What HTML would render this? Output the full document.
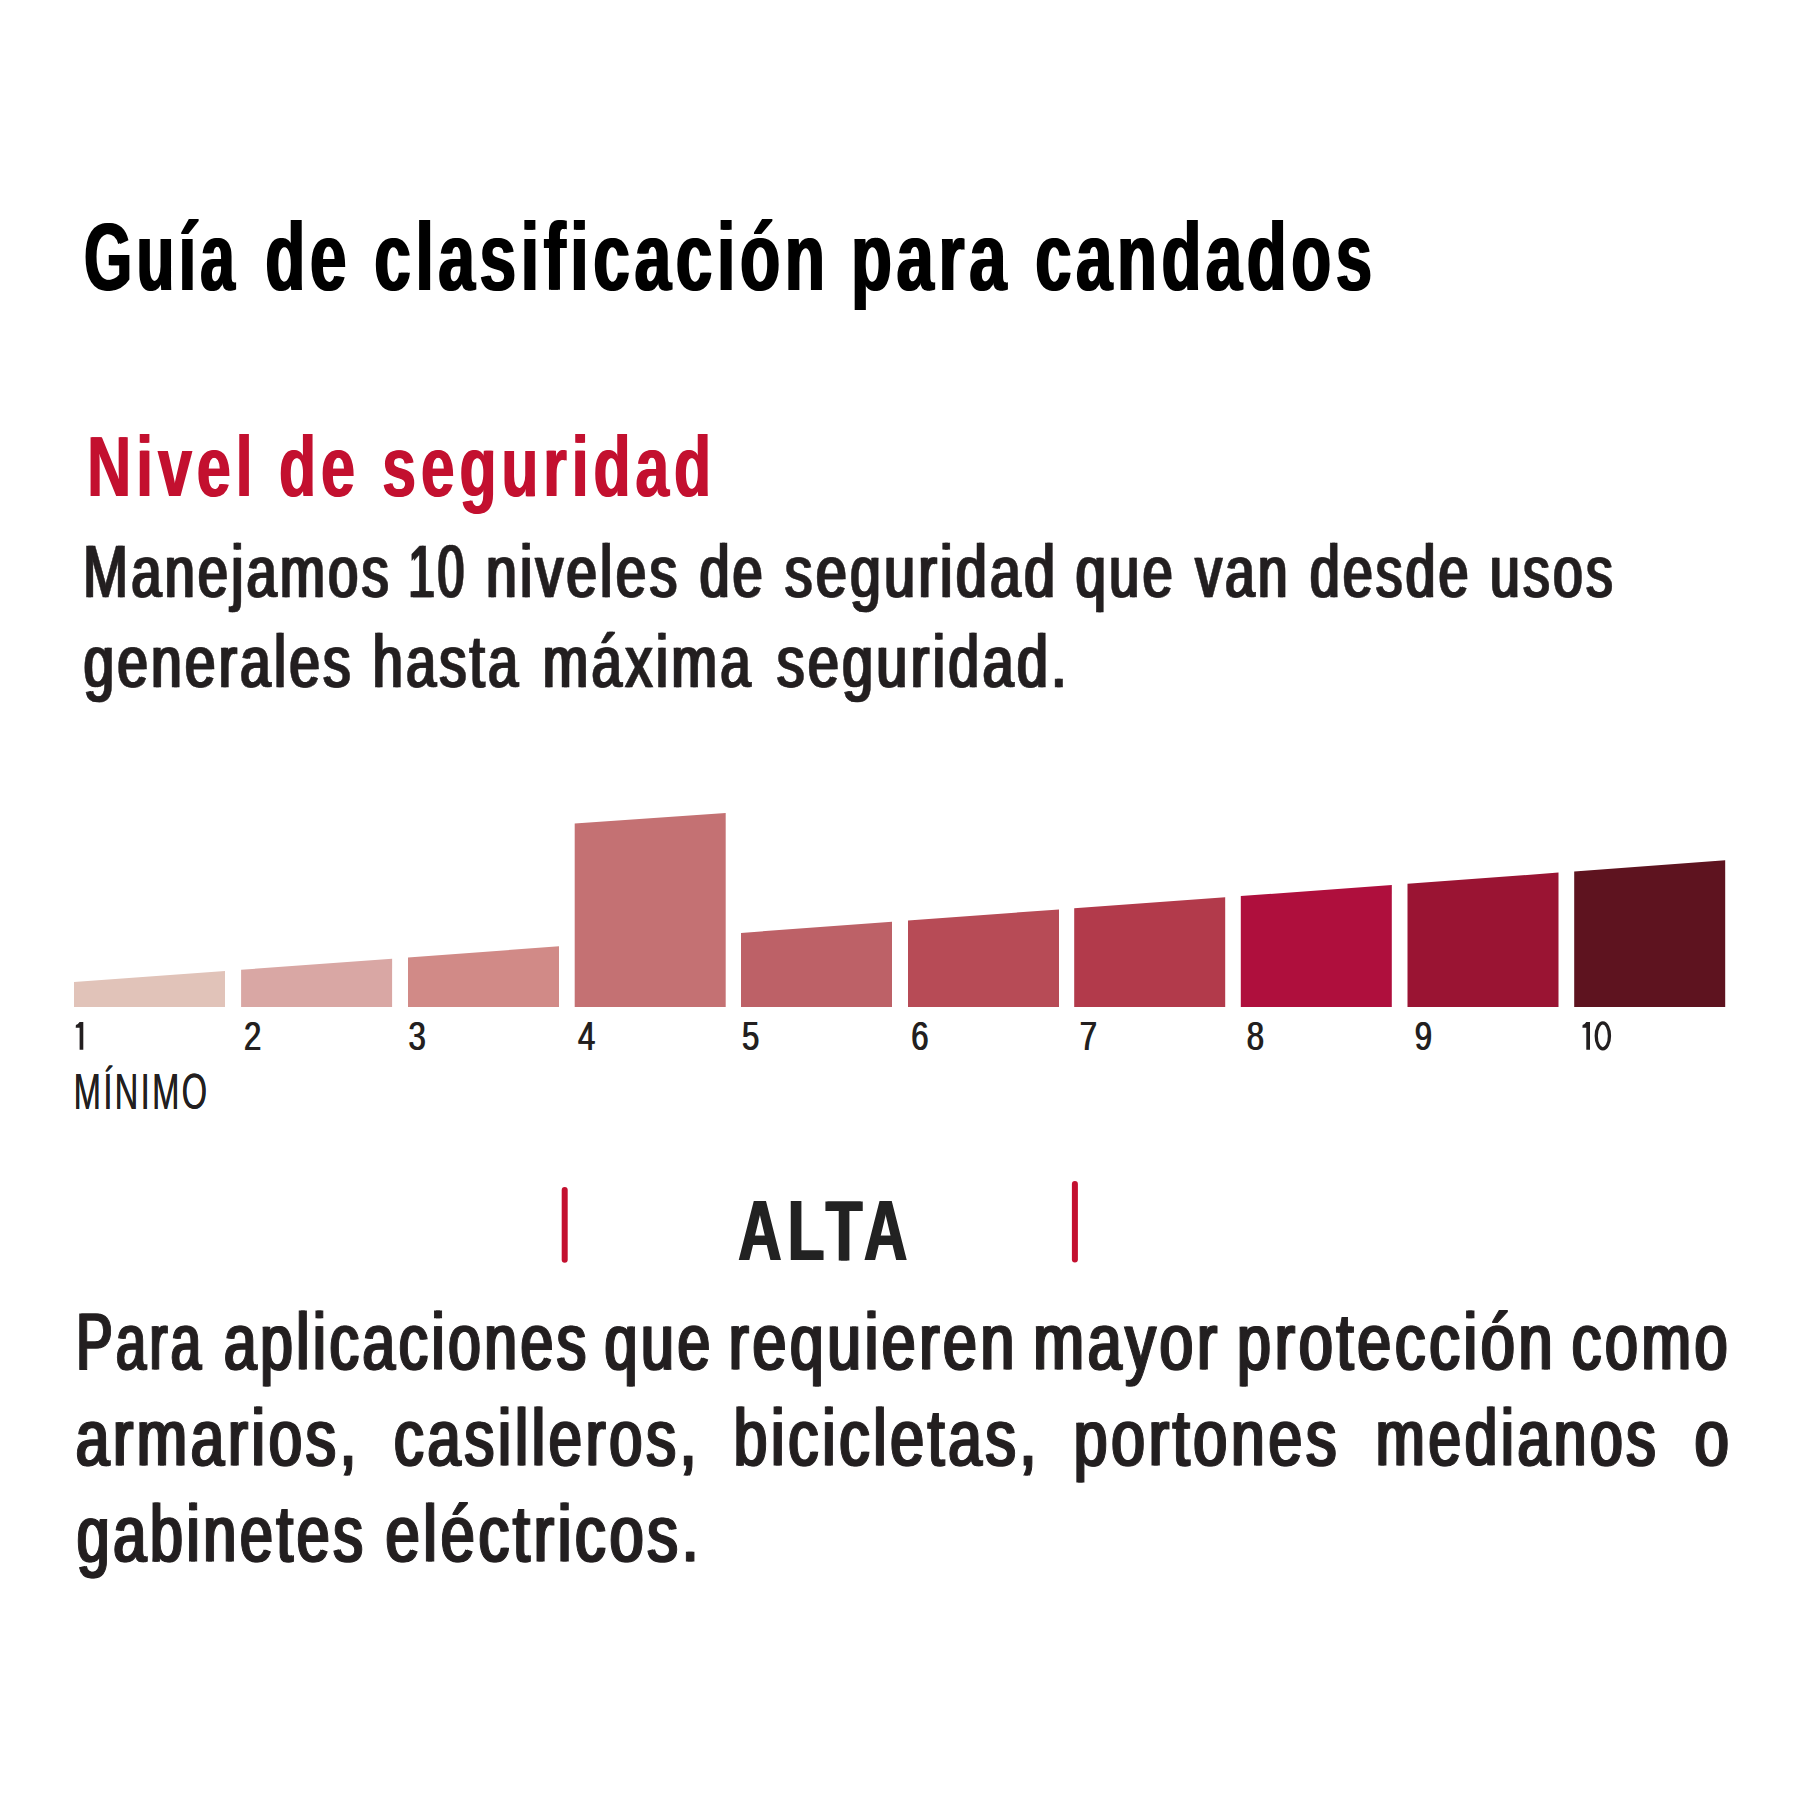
<!DOCTYPE html>
<html><head><meta charset="utf-8"><style>
html,body{margin:0;padding:0;background:#fff;width:1800px;height:1800px;overflow:hidden}
svg{display:block;font-family:"Liberation Sans",sans-serif}
</style></head><body>
<svg width="1800" height="1800" viewBox="0 0 1800 1800">
<rect width="1800" height="1800" fill="#fff"/>
<polygon points="74.00,1007 74.00,982.08 225.00,970.95 225.00,1007" fill="#e1c3b9"/>
<polygon points="241.10,1007 241.10,969.76 392.10,958.63 392.10,1007" fill="#d9a7a4"/>
<polygon points="408.00,1007 408.00,957.45 559.00,946.32 559.00,1007" fill="#d18a87"/>
<polygon points="574.70,1007 574.70,823.60 725.70,813.10 725.70,1007" fill="#c47173"/>
<polygon points="741.00,1007 741.00,932.90 892.00,921.77 892.00,1007" fill="#bd6167"/>
<polygon points="908.00,1007 908.00,920.59 1059.00,909.45 1059.00,1007" fill="#b74b56"/>
<polygon points="1074.20,1007 1074.20,908.33 1225.20,897.20 1225.20,1007" fill="#b23a4b"/>
<polygon points="1240.80,1007 1240.80,896.05 1391.80,884.91 1391.80,1007" fill="#af0f3d"/>
<polygon points="1407.50,1007 1407.50,883.75 1558.50,872.62 1558.50,1007" fill="#9a1433"/>
<polygon points="1574.20,1007 1574.20,871.46 1725.20,860.33 1725.20,1007" fill="#5e131f"/>
<line x1="564.7" y1="1190" x2="564.7" y2="1259.8" stroke="#c3102f" stroke-width="6" stroke-linecap="round"/>
<line x1="1074.9" y1="1184" x2="1074.9" y2="1259.5" stroke="#c3102f" stroke-width="6" stroke-linecap="round"/>
<text transform="translate(83.06 290.0) scale(0.6459 1)" font-size="95.93" font-weight="700" letter-spacing="6.72" fill="#000">Guía</text>
<text transform="translate(85.06 290.0) scale(0.6459 1)" font-size="95.93" font-weight="700" letter-spacing="6.72" fill="#000">Guía</text>
<text transform="translate(264.35 290.0) scale(0.6833 1)" font-size="95.93" font-weight="700" letter-spacing="6.72" fill="#000">de</text>
<text transform="translate(266.35 290.0) scale(0.6833 1)" font-size="95.93" font-weight="700" letter-spacing="6.72" fill="#000">de</text>
<text transform="translate(373.14 290.0) scale(0.6868 1)" font-size="95.93" font-weight="700" letter-spacing="6.72" fill="#000">clasificación</text>
<text transform="translate(375.14 290.0) scale(0.6868 1)" font-size="95.93" font-weight="700" letter-spacing="6.72" fill="#000">clasificación</text>
<text transform="translate(849.91 290.0) scale(0.6983 1)" font-size="95.93" font-weight="700" letter-spacing="6.72" fill="#000">para</text>
<text transform="translate(851.91 290.0) scale(0.6983 1)" font-size="95.93" font-weight="700" letter-spacing="6.72" fill="#000">para</text>
<text transform="translate(1034.16 290.0) scale(0.6808 1)" font-size="95.93" font-weight="700" letter-spacing="6.72" fill="#000">candados</text>
<text transform="translate(1036.16 290.0) scale(0.6808 1)" font-size="95.93" font-weight="700" letter-spacing="6.72" fill="#000">candados</text>
<text transform="translate(86.43 496.0) scale(0.7181 1)" font-size="85.03" font-weight="700" letter-spacing="6.80" fill="#c3102f">Nivel</text>
<text transform="translate(87.83 496.0) scale(0.7181 1)" font-size="85.03" font-weight="700" letter-spacing="6.80" fill="#c3102f">Nivel</text>
<text transform="translate(278.19 496.0) scale(0.7180 1)" font-size="85.03" font-weight="700" letter-spacing="6.80" fill="#c3102f">de</text>
<text transform="translate(279.59 496.0) scale(0.7180 1)" font-size="85.03" font-weight="700" letter-spacing="6.80" fill="#c3102f">de</text>
<text transform="translate(381.60 496.0) scale(0.7135 1)" font-size="85.03" font-weight="700" letter-spacing="6.80" fill="#c3102f">seguridad</text>
<text transform="translate(383.00 496.0) scale(0.7135 1)" font-size="85.03" font-weight="700" letter-spacing="6.80" fill="#c3102f">seguridad</text>
<text transform="translate(81.89 596.7) scale(0.7215 1)" font-size="75.00" font-weight="400" letter-spacing="4.50" fill="#231f20" stroke="#231f20" stroke-width="0.6">Manejamos</text>
<text transform="translate(84.09 596.7) scale(0.7215 1)" font-size="75.00" font-weight="400" letter-spacing="4.50" fill="#231f20" stroke="#231f20" stroke-width="0.6">Manejamos</text>
<text transform="translate(407.21 596.7) scale(0.6356 1)" font-size="75.00" font-weight="400" letter-spacing="4.50" fill="#231f20" stroke="#231f20" stroke-width="0.6">10</text>
<text transform="translate(409.41 596.7) scale(0.6356 1)" font-size="75.00" font-weight="400" letter-spacing="4.50" fill="#231f20" stroke="#231f20" stroke-width="0.6">10</text>
<text transform="translate(485.08 596.7) scale(0.7330 1)" font-size="75.00" font-weight="400" letter-spacing="4.50" fill="#231f20" stroke="#231f20" stroke-width="0.6">niveles</text>
<text transform="translate(487.28 596.7) scale(0.7330 1)" font-size="75.00" font-weight="400" letter-spacing="4.50" fill="#231f20" stroke="#231f20" stroke-width="0.6">niveles</text>
<text transform="translate(698.54 596.7) scale(0.7157 1)" font-size="75.00" font-weight="400" letter-spacing="4.50" fill="#231f20" stroke="#231f20" stroke-width="0.6">de</text>
<text transform="translate(700.74 596.7) scale(0.7157 1)" font-size="75.00" font-weight="400" letter-spacing="4.50" fill="#231f20" stroke="#231f20" stroke-width="0.6">de</text>
<text transform="translate(783.65 596.7) scale(0.7398 1)" font-size="75.00" font-weight="400" letter-spacing="4.50" fill="#231f20" stroke="#231f20" stroke-width="0.6">seguridad</text>
<text transform="translate(785.85 596.7) scale(0.7398 1)" font-size="75.00" font-weight="400" letter-spacing="4.50" fill="#231f20" stroke="#231f20" stroke-width="0.6">seguridad</text>
<text transform="translate(1074.52 596.7) scale(0.7236 1)" font-size="75.00" font-weight="400" letter-spacing="4.50" fill="#231f20" stroke="#231f20" stroke-width="0.6">que</text>
<text transform="translate(1076.72 596.7) scale(0.7236 1)" font-size="75.00" font-weight="400" letter-spacing="4.50" fill="#231f20" stroke="#231f20" stroke-width="0.6">que</text>
<text transform="translate(1194.31 596.7) scale(0.7086 1)" font-size="75.00" font-weight="400" letter-spacing="4.50" fill="#231f20" stroke="#231f20" stroke-width="0.6">van</text>
<text transform="translate(1196.51 596.7) scale(0.7086 1)" font-size="75.00" font-weight="400" letter-spacing="4.50" fill="#231f20" stroke="#231f20" stroke-width="0.6">van</text>
<text transform="translate(1308.74 596.7) scale(0.7133 1)" font-size="75.00" font-weight="400" letter-spacing="4.50" fill="#231f20" stroke="#231f20" stroke-width="0.6">desde</text>
<text transform="translate(1310.94 596.7) scale(0.7133 1)" font-size="75.00" font-weight="400" letter-spacing="4.50" fill="#231f20" stroke="#231f20" stroke-width="0.6">desde</text>
<text transform="translate(1488.86 596.7) scale(0.7148 1)" font-size="75.00" font-weight="400" letter-spacing="4.50" fill="#231f20" stroke="#231f20" stroke-width="0.6">usos</text>
<text transform="translate(1491.06 596.7) scale(0.7148 1)" font-size="75.00" font-weight="400" letter-spacing="4.50" fill="#231f20" stroke="#231f20" stroke-width="0.6">usos</text>
<text transform="translate(82.51 686.7) scale(0.7309 1)" font-size="75.00" font-weight="400" letter-spacing="4.50" fill="#231f20" stroke="#231f20" stroke-width="0.6">generales</text>
<text transform="translate(84.71 686.7) scale(0.7309 1)" font-size="75.00" font-weight="400" letter-spacing="4.50" fill="#231f20" stroke="#231f20" stroke-width="0.6">generales</text>
<text transform="translate(371.53 686.7) scale(0.7222 1)" font-size="75.00" font-weight="400" letter-spacing="4.50" fill="#231f20" stroke="#231f20" stroke-width="0.6">hasta</text>
<text transform="translate(373.73 686.7) scale(0.7222 1)" font-size="75.00" font-weight="400" letter-spacing="4.50" fill="#231f20" stroke="#231f20" stroke-width="0.6">hasta</text>
<text transform="translate(541.50 686.7) scale(0.7302 1)" font-size="75.00" font-weight="400" letter-spacing="4.50" fill="#231f20" stroke="#231f20" stroke-width="0.6">máxima</text>
<text transform="translate(543.70 686.7) scale(0.7302 1)" font-size="75.00" font-weight="400" letter-spacing="4.50" fill="#231f20" stroke="#231f20" stroke-width="0.6">máxima</text>
<text transform="translate(775.65 686.7) scale(0.7418 1)" font-size="75.00" font-weight="400" letter-spacing="4.50" fill="#231f20" stroke="#231f20" stroke-width="0.6">seguridad.</text>
<text transform="translate(777.85 686.7) scale(0.7418 1)" font-size="75.00" font-weight="400" letter-spacing="4.50" fill="#231f20" stroke="#231f20" stroke-width="0.6">seguridad.</text>
<text transform="translate(73.54 1109.0) scale(0.6444 1)" font-size="50.87" font-weight="400" letter-spacing="3.56" fill="#231f20">MÍNIMO</text>
<text transform="translate(73.84 1109.0) scale(0.6444 1)" font-size="50.87" font-weight="400" letter-spacing="3.56" fill="#231f20">MÍNIMO</text>
<text transform="translate(737.36 1260.0) scale(0.6993 1)" font-size="85.76" font-weight="700" letter-spacing="8.58" fill="#222">ALTA</text>
<text transform="translate(739.36 1260.0) scale(0.6993 1)" font-size="85.76" font-weight="700" letter-spacing="8.58" fill="#222">ALTA</text>
<text transform="translate(75.36 1369.4) scale(0.6854 1)" font-size="79.36" font-weight="400" letter-spacing="4.76" fill="#231f20" stroke="#231f20" stroke-width="1.2">Para</text>
<text transform="translate(77.26 1369.4) scale(0.6854 1)" font-size="79.36" font-weight="400" letter-spacing="4.76" fill="#231f20" stroke="#231f20" stroke-width="1.2">Para</text>
<text transform="translate(222.91 1369.4) scale(0.7407 1)" font-size="79.36" font-weight="400" letter-spacing="4.76" fill="#231f20" stroke="#231f20" stroke-width="1.2">aplicaciones</text>
<text transform="translate(224.81 1369.4) scale(0.7407 1)" font-size="79.36" font-weight="400" letter-spacing="4.76" fill="#231f20" stroke="#231f20" stroke-width="1.2">aplicaciones</text>
<text transform="translate(603.60 1369.4) scale(0.7451 1)" font-size="79.36" font-weight="400" letter-spacing="4.76" fill="#231f20" stroke="#231f20" stroke-width="1.2">que</text>
<text transform="translate(605.50 1369.4) scale(0.7451 1)" font-size="79.36" font-weight="400" letter-spacing="4.76" fill="#231f20" stroke="#231f20" stroke-width="1.2">que</text>
<text transform="translate(727.66 1369.4) scale(0.7651 1)" font-size="79.36" font-weight="400" letter-spacing="4.76" fill="#231f20" stroke="#231f20" stroke-width="1.2">requieren</text>
<text transform="translate(729.56 1369.4) scale(0.7651 1)" font-size="79.36" font-weight="400" letter-spacing="4.76" fill="#231f20" stroke="#231f20" stroke-width="1.2">requieren</text>
<text transform="translate(1032.35 1369.4) scale(0.7677 1)" font-size="79.36" font-weight="400" letter-spacing="4.76" fill="#231f20" stroke="#231f20" stroke-width="1.2">mayor</text>
<text transform="translate(1034.25 1369.4) scale(0.7677 1)" font-size="79.36" font-weight="400" letter-spacing="4.76" fill="#231f20" stroke="#231f20" stroke-width="1.2">mayor</text>
<text transform="translate(1235.93 1369.4) scale(0.7722 1)" font-size="79.36" font-weight="400" letter-spacing="4.76" fill="#231f20" stroke="#231f20" stroke-width="1.2">protección</text>
<text transform="translate(1237.83 1369.4) scale(0.7722 1)" font-size="79.36" font-weight="400" letter-spacing="4.76" fill="#231f20" stroke="#231f20" stroke-width="1.2">protección</text>
<text transform="translate(1570.69 1369.4) scale(0.7486 1)" font-size="79.36" font-weight="400" letter-spacing="4.76" fill="#231f20" stroke="#231f20" stroke-width="1.2">como</text>
<text transform="translate(1572.59 1369.4) scale(0.7486 1)" font-size="79.36" font-weight="400" letter-spacing="4.76" fill="#231f20" stroke="#231f20" stroke-width="1.2">como</text>
<text transform="translate(74.87 1465.4) scale(0.7607 1)" font-size="79.36" font-weight="400" letter-spacing="4.76" fill="#231f20" stroke="#231f20" stroke-width="1.2">armarios,</text>
<text transform="translate(76.77 1465.4) scale(0.7607 1)" font-size="79.36" font-weight="400" letter-spacing="4.76" fill="#231f20" stroke="#231f20" stroke-width="1.2">armarios,</text>
<text transform="translate(392.88 1465.4) scale(0.7555 1)" font-size="79.36" font-weight="400" letter-spacing="4.76" fill="#231f20" stroke="#231f20" stroke-width="1.2">casilleros,</text>
<text transform="translate(394.78 1465.4) scale(0.7555 1)" font-size="79.36" font-weight="400" letter-spacing="4.76" fill="#231f20" stroke="#231f20" stroke-width="1.2">casilleros,</text>
<text transform="translate(732.67 1465.4) scale(0.7645 1)" font-size="79.36" font-weight="400" letter-spacing="4.76" fill="#231f20" stroke="#231f20" stroke-width="1.2">bicicletas,</text>
<text transform="translate(734.57 1465.4) scale(0.7645 1)" font-size="79.36" font-weight="400" letter-spacing="4.76" fill="#231f20" stroke="#231f20" stroke-width="1.2">bicicletas,</text>
<text transform="translate(1072.65 1465.4) scale(0.7683 1)" font-size="79.36" font-weight="400" letter-spacing="4.76" fill="#231f20" stroke="#231f20" stroke-width="1.2">portones</text>
<text transform="translate(1074.55 1465.4) scale(0.7683 1)" font-size="79.36" font-weight="400" letter-spacing="4.76" fill="#231f20" stroke="#231f20" stroke-width="1.2">portones</text>
<text transform="translate(1374.87 1465.4) scale(0.7414 1)" font-size="79.36" font-weight="400" letter-spacing="4.76" fill="#231f20" stroke="#231f20" stroke-width="1.2">medianos</text>
<text transform="translate(1376.77 1465.4) scale(0.7414 1)" font-size="79.36" font-weight="400" letter-spacing="4.76" fill="#231f20" stroke="#231f20" stroke-width="1.2">medianos</text>
<text transform="translate(1693.54 1465.4) scale(0.7770 1)" font-size="79.36" font-weight="400" letter-spacing="4.76" fill="#231f20" stroke="#231f20" stroke-width="1.2">o</text>
<text transform="translate(1695.44 1465.4) scale(0.7770 1)" font-size="79.36" font-weight="400" letter-spacing="4.76" fill="#231f20" stroke="#231f20" stroke-width="1.2">o</text>
<text transform="translate(75.69 1561.4) scale(0.7490 1)" font-size="79.36" font-weight="400" letter-spacing="4.76" fill="#231f20" stroke="#231f20" stroke-width="1.2">gabinetes</text>
<text transform="translate(77.59 1561.4) scale(0.7490 1)" font-size="79.36" font-weight="400" letter-spacing="4.76" fill="#231f20" stroke="#231f20" stroke-width="1.2">gabinetes</text>
<text transform="translate(384.54 1561.4) scale(0.7739 1)" font-size="79.36" font-weight="400" letter-spacing="4.76" fill="#231f20" stroke="#231f20" stroke-width="1.2">eléctricos.</text>
<text transform="translate(386.44 1561.4) scale(0.7739 1)" font-size="79.36" font-weight="400" letter-spacing="4.76" fill="#231f20" stroke="#231f20" stroke-width="1.2">eléctricos.</text>
<text transform="translate(243.54 1050) scale(0.7800 1)" font-size="39.82" font-weight="400" letter-spacing="1.19" fill="#231f20">2</text>
<text transform="translate(244.54 1050) scale(0.7800 1)" font-size="39.82" font-weight="400" letter-spacing="1.19" fill="#231f20">2</text>
<text transform="translate(407.93 1050) scale(0.7800 1)" font-size="39.82" font-weight="400" letter-spacing="1.19" fill="#231f20">3</text>
<text transform="translate(408.93 1050) scale(0.7800 1)" font-size="39.82" font-weight="400" letter-spacing="1.19" fill="#231f20">3</text>
<text transform="translate(577.51 1050) scale(0.7800 1)" font-size="39.82" font-weight="400" letter-spacing="1.19" fill="#231f20">4</text>
<text transform="translate(578.51 1050) scale(0.7800 1)" font-size="39.82" font-weight="400" letter-spacing="1.19" fill="#231f20">4</text>
<text transform="translate(741.43 1050) scale(0.7800 1)" font-size="39.82" font-weight="400" letter-spacing="1.19" fill="#231f20">5</text>
<text transform="translate(742.43 1050) scale(0.7800 1)" font-size="39.82" font-weight="400" letter-spacing="1.19" fill="#231f20">5</text>
<text transform="translate(910.74 1050) scale(0.7800 1)" font-size="39.82" font-weight="400" letter-spacing="1.19" fill="#231f20">6</text>
<text transform="translate(911.74 1050) scale(0.7800 1)" font-size="39.82" font-weight="400" letter-spacing="1.19" fill="#231f20">6</text>
<text transform="translate(1079.24 1050) scale(0.7800 1)" font-size="39.82" font-weight="400" letter-spacing="1.19" fill="#231f20">7</text>
<text transform="translate(1080.24 1050) scale(0.7800 1)" font-size="39.82" font-weight="400" letter-spacing="1.19" fill="#231f20">7</text>
<text transform="translate(1246.33 1050) scale(0.7800 1)" font-size="39.82" font-weight="400" letter-spacing="1.19" fill="#231f20">8</text>
<text transform="translate(1247.33 1050) scale(0.7800 1)" font-size="39.82" font-weight="400" letter-spacing="1.19" fill="#231f20">8</text>
<text transform="translate(1414.34 1050) scale(0.7800 1)" font-size="39.82" font-weight="400" letter-spacing="1.19" fill="#231f20">9</text>
<text transform="translate(1415.34 1050) scale(0.7800 1)" font-size="39.82" font-weight="400" letter-spacing="1.19" fill="#231f20">9</text>
<path d="M79.60 1022.1 L83.30 1022.1 L83.30 1049.7 L79.60 1049.7 L79.60 1027.7 L75.70 1027.7 L75.90 1025.1 Q78.00 1024.6 79.60 1022.1 Z M1586.30 1022.1 L1590.00 1022.1 L1590.00 1049.7 L1586.30 1049.7 L1586.30 1027.7 L1582.40 1027.7 L1582.60 1025.1 Q1584.70 1024.6 1586.30 1022.1 Z" fill="#231f20"/>
<ellipse cx="1602.85" cy="1035.9" rx="6.6" ry="12.95" fill="none" stroke="#231f20" stroke-width="3.3"/>
</svg>
</body></html>
